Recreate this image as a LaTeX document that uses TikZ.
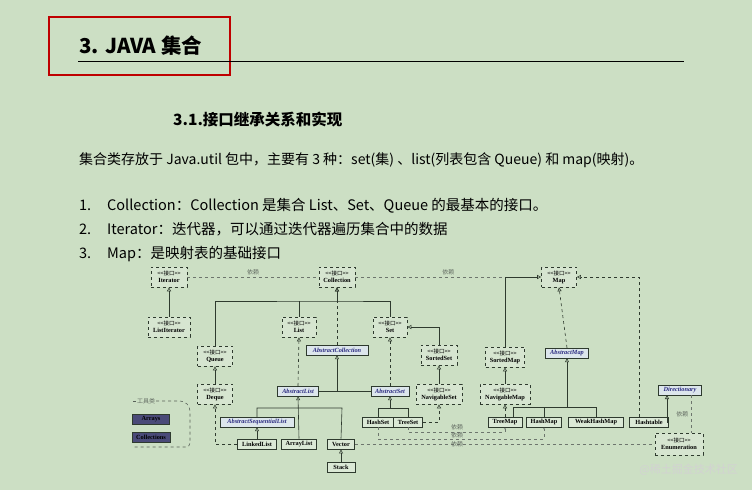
\documentclass[tikz,border=0pt]{standalone}
\usepackage{fontspec}
\setmainfont{Liberation Serif}
\newfontfamily\cjk{Noto Sans CJK SC}
\usetikzlibrary{arrows.meta}
\definecolor{bg}{HTML}{CCDFC4}
\definecolor{ln}{HTML}{2E3A2E}
\definecolor{absfill}{HTML}{DCE6EC}
\definecolor{absblue}{HTML}{2A2A80}
\definecolor{toolfill}{HTML}{4A4A78}
\begin{document}
\begin{tikzpicture}[x=1pt,y=-1pt,
  iface/.style={draw=ln,dashed,line width=0.7pt,fill=bg!80!white,align=center,inner sep=0.5pt,font=\bfseries\fontsize{6.3}{6.8}\selectfont,minimum height=20pt},
  abs/.style={draw=ln,line width=0.4pt,fill=absfill,inner sep=0.5pt,font=\bfseries\itshape\fontsize{6.3}{7}\selectfont,text=absblue,minimum height=10pt},
  conc/.style={draw=ln,line width=0.8pt,fill=bg!70!white,inner sep=0.5pt,font=\bfseries\fontsize{6.3}{7}\selectfont,minimum height=10pt},
  inh/.style={draw=ln,line width=0.6pt,-{Triangle[open,length=4pt,width=4pt]}},
  imp/.style={draw=ln,line width=0.6pt,dashed,-{Triangle[open,length=4pt,width=4pt]}},
  dep/.style={draw=ln!70,line width=0.5pt,dashed},
  sol/.style={draw=ln,line width=0.6pt},
  lbl/.style={font=\cjk\fontsize{6}{7}\selectfont,text=ln!75,inner sep=0.5pt}]
\fill[bg] (0,0) rectangle (752,490);
\useasboundingbox (0,0) rectangle (752,490);
% header
\draw[red!75!black,line width=1.3pt] (49,17) rectangle (230,75);
\draw[black,line width=0.7pt] (78,61) -- (684,61);
\node[anchor=base west,inner sep=0,font=\cjk\bfseries\fontsize{20.5}{22}\selectfont] (title) at (79,53) {3. JAVA 集合};
\node[anchor=base west,inner sep=0,font=\cjk\bfseries\fontsize{15.5}{17}\selectfont] (sub) at (173,125) {3.1.接口继承关系和实现};
\node[anchor=base west,inner sep=0,font=\cjk\fontsize{14}{16}\selectfont] (p1) at (79,164) {集合类存放于 Java.util 包中，主要有 3 种：set(集) 、list(列表包含 Queue) 和 map(映射)。};
\foreach \n/\yy/\t in {1/210/{Collection：Collection 是集合 List、Set、Queue 的最基本的接口。},2/234/{Iterator：迭代器，可以通过迭代器遍历集合中的数据},3/258/{Map：是映射表的基础接口}}{
  \node[anchor=base west,inner sep=0,font=\cjk\fontsize{14.5}{16}\selectfont] (n\n) at (79,\yy) {\n.};
  \node[anchor=base west,inner sep=0,font=\cjk\fontsize{14.5}{16}\selectfont] (t\n) at (107,\yy) {\t};
}
\newcommand{\ifc}[1]{{\cjk\mdseries\fontsize{5.5}{6.5}\selectfont<<接口>>}\\#1}
% interface nodes
\node[iface,minimum width=36pt] (iter) at (169,277) {\ifc{Iterator}};
\node[iface,minimum width=36pt] (coll) at (337,277) {\ifc{Collection}};
\node[iface,minimum width=35pt] (map) at (559,277) {\ifc{Map}};
\node[iface,minimum width=42pt] (litr) at (169,327) {\ifc{ListIterator}};
\node[iface,minimum width=34pt] (list) at (299,327) {\ifc{List}};
\node[iface,minimum width=34pt] (set) at (390,327) {\ifc{Set}};
\node[iface,minimum width=35pt] (queue) at (215,356) {\ifc{Queue}};
\node[iface,minimum width=35pt] (deque) at (215,394) {\ifc{Deque}};
\node[iface,minimum width=36pt] (sset) at (439,355) {\ifc{SortedSet}};
\node[iface,minimum width=46pt] (nset) at (439,394) {\ifc{NavigableSet}};
\node[iface,minimum width=39pt] (smap) at (505,357) {\ifc{SortedMap}};
\node[iface,minimum width=50pt] (nmap) at (505,394) {\ifc{NavigableMap}};
\node[iface,minimum width=48pt,minimum height=22pt] (enum) at (679,444) {\ifc{Enumeration}};
% abstract
\node[abs,minimum width=62pt] (acoll) at (337,350) {AbstractCollection};
\node[abs,minimum width=41pt] (alist) at (298,391) {AbstractList};
\node[abs,minimum width=38pt] (aset) at (390,391) {AbstractSet};
\node[abs,minimum width=74pt] (aseq) at (257,422) {AbstractSequentialList};
\node[abs,minimum width=43pt] (amap) at (567,353) {AbstractMap};
\node[abs,minimum width=43pt] (dict) at (680,390) {Directionary};
% concrete
\node[conc,minimum width=31pt] (hset) at (378,422) {HashSet};
\node[conc,minimum width=29pt] (tset) at (408,422) {TreeSet};
\node[conc,minimum width=39pt] (llist) at (257,444) {LinkedList};
\node[conc,minimum width=35pt] (alst) at (299,444) {ArrayList};
\node[conc,minimum width=27pt] (vec) at (341,444) {Vector};
\node[conc,minimum width=28pt] (stack) at (341,467) {Stack};
\node[conc,minimum width=34pt] (tmap) at (505,422) {TreeMap};
\node[conc,minimum width=35pt] (hmap) at (544,422) {HashMap};
\node[conc,minimum width=55pt] (wmap) at (596,422) {WeakHashMap};
\node[conc,minimum width=39pt] (htab) at (649,422) {Hashtable};
% tool box
\draw[ln!80,dashed,line width=0.6pt,rounded corners=4pt] (156,401) -- (184,401) -- (190,407) -- (190,447) -- (133,447);
\draw[ln!80,dashed,line width=0.6pt] (133,401) -- (136,401);
\node[lbl] (tool) at (146,401) {工具类};
\node[fill=toolfill,draw=ln,minimum width=37pt,minimum height=10pt,inner sep=0,font=\bfseries\fontsize{6.3}{7}\selectfont,text=black] (arr) at (151,419) {Arrays};
\node[fill=toolfill,draw=ln,minimum width=38pt,minimum height=10pt,inner sep=0,font=\bfseries\fontsize{6.3}{7}\selectfont,text=black] (colls) at (151,437) {Collections};
% dependencies top
\path[dep] (iter) -- (coll) node[lbl,midway,above=1pt] {依赖};
\path[dep] (coll) -- (map) node[lbl,midway,above=1pt] {依赖};
% collection hierarchy
\path[inh] (litr) -- (iter);
\coordinate (cb) at (337,301);
\path[sol] (queue.north) |- (cb) -| (set.north);
\path[sol] (list.north) -- (299,301);
\path[inh] (cb) -- (coll.south);
\path[imp] (acoll.north) -- (coll.south);
\path[inh] (deque) -- (queue);
\path[imp] (alist.north) -- (list.south);
\path[imp] (aset.north) -- (set.south);
\path[sol] (alist.east) -- (aset.west);
\path[inh] (337,391) -- (acoll.south);
\path[inh] (sset.north) |- (set.east);
\path[inh] (nset) -- (sset);
\path[imp] (tset.east) -| (nset.south);
\path[sol] (hset.north) |- (408,408) -- (tset.north);
\path[inh] (390,408) -- (aset.south);
\path[sol] (aseq.north) |- (342,408) -- (vec.north);
\path[inh] (alst.north) -- (alist.south);
\path[inh] (llist) -- (aseq);
\path[imp] (llist.west) -| (deque.south);
\path[inh] (stack) -- (vec);
% map hierarchy
\path[inh] (smap.north) |- (map.west);
\path[inh] (nmap) -- (smap);
\path[imp] (tmap.north) -- (nmap.south);
\path[imp] (amap.north) -- (map.south);
\path[sol] (513,417) |- (596,407) -- (wmap.north);
\path[sol] (hmap.north) -- (544,407);
\path[inh] (567,407) -- (amap.south);
\path[imp] (639,417) |- (map.east);
\path[inh] (htab.east) -| (667,395);
\path[dep] (691,395) -- (691,433) node[lbl,midway,left=2pt] {依赖};
% dependency lines bottom
\path[dep,-{Stealth[length=2pt]}] (tset.south) |- (505,432) -- (tmap.south);
\path[dep,-{Stealth[length=2pt]}] (hset.south) |- (544,439) -- (hmap.south);
\path[dep] (vec.east) -- (enum.west);
\node[lbl] (d1) at (457,427) {依赖};
\node[lbl] (d2) at (457,435.5) {依赖};
\node[lbl] (d3) at (457,444) {依赖};
\node[anchor=base east,inner sep=0,font=\cjk\fontsize{11}{12}\selectfont,text=white!65!gray] (wm) at (738,473) {@稀土掘金技术社区};
\end{tikzpicture}
\end{document}
